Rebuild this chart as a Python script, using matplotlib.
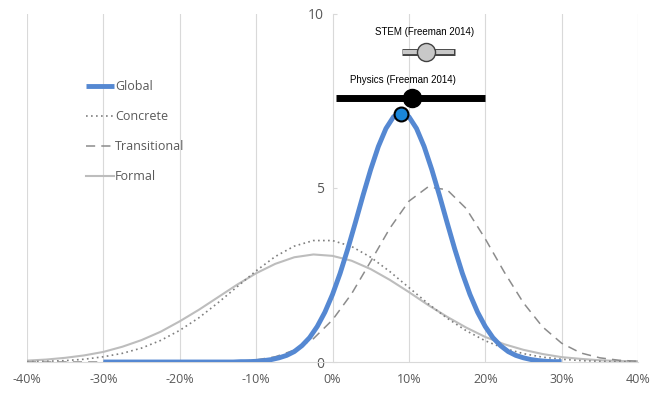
import matplotlib.pyplot as plt

plt.rcParams['font.family'] = ['Open Sans', 'DejaVu Sans']

# x positions in percent
X_GLOBAL = list(range(-30, 31))
X_OTHER = [-40 + 2.5 * i for i in range(33)]

GLOBAL = [0.00, 0.00, 0.00, 0.00, 0.00, 0.00, 0.00, 0.00, 0.00, 0.00,
          0.00, 0.00, 0.00, 0.00, 0.00, 0.00, 0.00, 0.00,
          0.01, 0.01, 0.02, 0.04, 0.07, 0.12, 0.19, 0.30, 0.47, 0.70,
          1.02, 1.43, 1.94, 2.55, 3.25, 4.01, 4.79, 5.53, 6.19, 6.71,
          7.05, 7.16, 7.05, 6.71, 6.19, 5.53, 4.79, 4.01, 3.25, 2.55,
          1.94, 1.43, 1.02, 0.70, 0.47, 0.30, 0.19, 0.12, 0.07, 0.04,
          0.02, 0.01, 0.01]
CONCRETE = [0.01, 0.02, 0.04, 0.08, 0.15, 0.25, 0.40, 0.62, 0.91, 1.27,
            1.70, 2.16, 2.62, 3.03, 3.33, 3.49, 3.49, 3.32, 3.01, 2.60,
            2.14, 1.68, 1.26, 0.90, 0.61, 0.39, 0.24, 0.14, 0.08, 0.04,
            0.02, 0.01, 0.01]
TRANSITIONAL = [0.00, 0.00, 0.00, 0.00, 0.00, 0.00, 0.00, 0.00, 0.00, 0.00,
                0.01, 0.02, 0.06, 0.15, 0.34, 0.67, 1.21, 1.96, 2.89, 3.84,
                4.62, 5.03, 4.95, 4.41, 3.54, 2.58, 1.70, 1.01, 0.54, 0.26,
                0.12, 0.05, 0.02]
FORMAL = [0.04, 0.07, 0.12, 0.19, 0.29, 0.44, 0.63, 0.87, 1.17, 1.50,
          1.86, 2.22, 2.55, 2.82, 3.01, 3.09, 3.05, 2.91, 2.67, 2.36,
          2.01, 1.64, 1.30, 0.99, 0.72, 0.51, 0.35, 0.23, 0.14, 0.09,
          0.05, 0.03, 0.02]

# reference studies: centre, low, high, height
STEM = (12.3, 9.1, 16.0, 8.92)
PHYSICS = (10.4, 0.5, 20.0, 7.59)
GLOBAL_PEAK = (9.0, 7.14)

X_TICKS = [-40, -30, -20, -10, 0, 10, 20, 30, 40]
Y_TICKS = [0, 5, 10]

fig = plt.figure(figsize=(6.62, 3.96), dpi=100)
ax = fig.add_axes([27 / 662, 34 / 396, 611 / 662, 348 / 396])

for x in X_TICKS:
    if x != 0:
        ax.axvline(x, color='#d9d9d9', lw=0.8, zorder=0)

ax.plot(X_OTHER, FORMAL, color='#bdbdbd', lw=1.5, label='Formal', zorder=2)
ax.plot(X_OTHER, CONCRETE, color='#7f7f7f', lw=1.2, ls=(0, (1, 2)),
        label='Concrete', zorder=2)
ax.plot(X_OTHER, TRANSITIONAL, color='#8c8c8c', lw=1.1, ls=(0, (6, 4)),
        label='Transitional', zorder=2)
ax.plot(X_GLOBAL, GLOBAL, color='#5588d2', lw=3.5, label='Global',
        solid_capstyle='butt', zorder=3)

# STEM error bar (gray bar with dark outline)
ax.plot([STEM[1], STEM[2]], [STEM[3], STEM[3]], color='#404040', lw=5,
        solid_capstyle='butt', zorder=4)
ax.plot([STEM[1] + 0.08, STEM[2] - 0.08], [STEM[3], STEM[3]], color='#c8c8c8',
        lw=3, solid_capstyle='butt', zorder=5)
ax.plot(STEM[0], STEM[3], 'o', ms=13, mfc='#c8c8c8', mec='#404040', mew=1,
        zorder=6)
ax.text(STEM[0] - 0.3, STEM[3] + 0.55, 'STEM (Freeman 2014)', ha='center',
        va='center', fontsize=7, family=['Liberation Sans'], color='#000000')

# Physics error bar
ax.plot([PHYSICS[1], PHYSICS[2]], [PHYSICS[3], PHYSICS[3]], color='black',
        lw=5, solid_capstyle='butt', zorder=4)
ax.plot(PHYSICS[0], PHYSICS[3], 'o', ms=13, color='black', zorder=6)
ax.text(PHYSICS[0] - 1.2, PHYSICS[3] + 0.5, 'Physics (Freeman 2014)',
        ha='center', va='center', fontsize=7, family=['Liberation Sans'],
        color='#000000')

ax.plot(GLOBAL_PEAK[0], GLOBAL_PEAK[1], 'o', ms=10, mfc='#1a86da', mec='black',
        mew=1.5, zorder=7)

ax.set_xlim(-40, 40)
ax.set_ylim(0, 10)
ax.set_xticks(X_TICKS)
ax.set_xticklabels([f'{x}%' for x in X_TICKS])
ax.set_yticks(Y_TICKS)
ax.tick_params(axis='x', length=0, labelsize=9, colors='#595959', pad=8)
ax.tick_params(axis='y', length=3, direction='in', color='#d9d9d9',
               labelsize=10, labelcolor='#595959', pad=6)

ax.spines['top'].set_visible(False)
ax.spines['right'].set_visible(False)
ax.spines['left'].set_position(('data', 0))
ax.spines['left'].set_color('#d9d9d9')
ax.spines['bottom'].set_color('#d9d9d9')
ax.spines['left'].set_zorder(0)

handles, labels = ax.get_legend_handles_labels()
order = [3, 1, 2, 0]
ax.legend([handles[i] for i in order], [labels[i] for i in order],
          loc='upper left', bbox_to_anchor=(80 / 662, 1 - 74 / 396),
          bbox_transform=fig.transFigure, frameon=False, fontsize=9,
          labelspacing=1.35, handlelength=2.2, handletextpad=0.1,
          borderpad=0, labelcolor='#595959')

fig.savefig('out.png', dpi=100)
